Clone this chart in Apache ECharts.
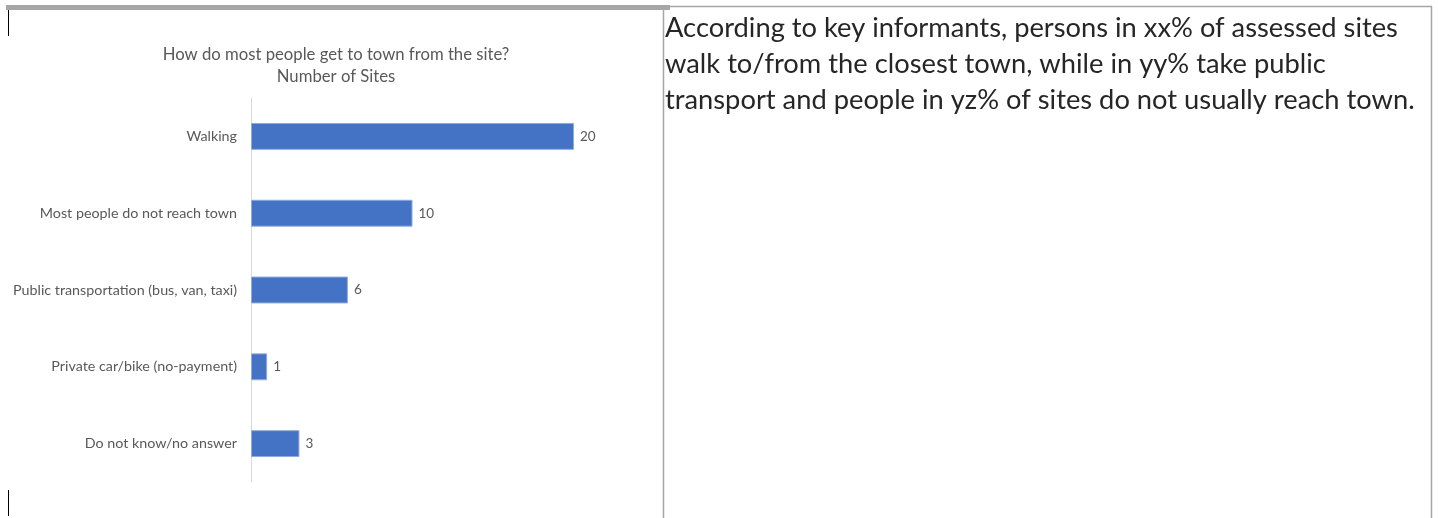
<!DOCTYPE html>
<html>
<head>
<meta charset="utf-8">
<script src="https://cdn.jsdelivr.net/npm/echarts@6/dist/echarts.min.js"></script>
<style>
  html, body { margin: 0; padding: 0; background: #fff; }
  #main { width: 1438px; height: 518px; }
</style>
</head>
<body>
<div id="main"></div>
<script>
// categories and number of sites
const categories = [
    'Walking',
    'Most people do not reach town',
    'Public transportation (bus, van, taxi)',
    'Private car/bike (no-payment)',
    'Do not know/no answer'
]
const sites = [20, 10, 6, 1, 3]

const titleLines = ['How do most people get to town from the site?', 'Number of Sites']
const noteLines = [
    'According to key informants, persons in xx% of assessed sites',
    'walk to/from the closest town, while in yy% take public',
    'transport and people in yz% of sites do not usually reach town.'
]

const FONT = 'Lato'
let chart = echarts.init(document.getElementById('main'))

// page decoration: table borders and cursor marks
const decor = [
    {type: 'rect', shape: {x: 6, y: 5, width: 664, height: 5}, style: {fill: '#a6a6a6'}},
    {type: 'line', shape: {x1: 663, y1: 6.5, x2: 1432, y2: 6.5}, style: {stroke: '#a6a6a6', lineWidth: 1.5}},
    {type: 'line', shape: {x1: 663.5, y1: 7, x2: 663.5, y2: 518}, style: {stroke: '#a6a6a6', lineWidth: 1.5}},
    {type: 'line', shape: {x1: 1431.5, y1: 6, x2: 1431.5, y2: 518}, style: {stroke: '#a6a6a6', lineWidth: 1.5}},
    {type: 'line', shape: {x1: 8.5, y1: 10, x2: 8.5, y2: 36}, style: {stroke: '#000', lineWidth: 1}},
    {type: 'line', shape: {x1: 8.5, y1: 490, x2: 8.5, y2: 516}, style: {stroke: '#000', lineWidth: 1}}
]
titleLines.forEach((t, i) => {
    decor.push({
        type: 'text', x: 336, y: 55 + i * 22,
        style: {text: t, font: '16.7px ' + FONT, fill: '#595959', textAlign: 'center', textVerticalAlign: 'middle'}
    })
})
noteLines.forEach((t, i) => {
    decor.push({
        type: 'text', x: 665, y: 28 + i * 36,
        style: {text: t, font: '27.3px ' + FONT, fill: '#262626', textAlign: 'left', textVerticalAlign: 'middle'}
    })
})

const option = {
    animation: false,
    grid: {
        left: 251,
        top: 98,
        width: 323,
        bottom: 36,
        containLabel: false
    },
    xAxis: {
        type: 'value',
        min: 0,
        max: 20,
        show: false
    },
    yAxis: {
        type: 'category',
        data: categories,
        inverse: true,
        axisLine: {lineStyle: {color: '#d9d9d9'}},
        axisTick: {show: false},
        axisLabel: {
            fontFamily: FONT,
            fontSize: 14.3,
            color: '#595959',
            margin: 14
        }
    },
    series: [{
        type: 'bar',
        data: sites,
        barWidth: '35%',
        itemStyle: {
            color: '#4472c4',
            borderColor: '#8faadc',
            borderWidth: 1
        },
        label: {
            show: true,
            position: 'right',
            distance: 6,
            fontFamily: FONT,
            fontSize: 13.5,
            color: '#595959'
        }
    }],
    graphic: decor
}
chart.setOption(option)
</script>
</body>
</html>
